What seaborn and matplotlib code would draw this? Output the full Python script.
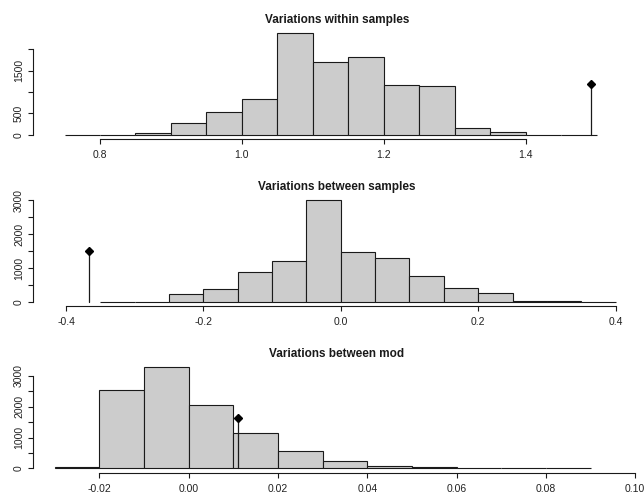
# %% libraries
import numpy as np
import pandas as pd
import matplotlib
matplotlib.use('Agg')
import matplotlib.pyplot as plt
import seaborn as sns

# %% data
# panel 1 - variations within samples
within_edges = [0.75, 0.80, 0.85, 0.90, 0.95, 1.00, 1.05, 1.10, 1.15,
                1.20, 1.25, 1.30, 1.35, 1.40, 1.45, 1.50]
within_counts = [1, 4, 40, 267, 526, 840, 2372, 1704, 1822,
                 1155, 1130, 170, 60, 3, 1]
within_obs = 1.492

# panel 2 - variations between samples
between_edges = [-0.35, -0.30, -0.25, -0.20, -0.15, -0.10, -0.05, 0.00,
                 0.05, 0.10, 0.15, 0.20, 0.25, 0.30, 0.35, 0.40]
between_counts = [1, 3, 247, 395, 888, 1224, 3010, 1490,
                  1303, 780, 414, 276, 30, 20, 1]
between_obs = -0.366

# panel 3 - variations between mod
mod_edges = [-0.03, -0.02, -0.01, 0.00, 0.01, 0.02, 0.03, 0.04,
             0.05, 0.06, 0.07, 0.08, 0.09]
mod_counts = [50, 2553, 3290, 2062, 1146, 567, 229, 87, 55, 30, 25, 1]
mod_obs = 0.011

titles = ['Variations within samples', 'Variations between samples',
          'Variations between mod']

# axis ticks and limits per panel
x_ticks = [[0.8, 1.0, 1.2, 1.4],
           [-0.4, -0.2, 0.0, 0.2, 0.4],
           [-0.02, 0.00, 0.02, 0.04, 0.06, 0.08, 0.10]]
x_labels = [['0.8', '1.0', '1.2', '1.4'],
            ['-0.4', '-0.2', '0.0', '0.2', '0.4'],
            ['-0.02', '0.00', '0.02', '0.04', '0.06', '0.08', '0.10']]
x_lims = [(0.7056, 1.5625), (-0.448, 0.437), (-0.03485, 0.1013)]
y_ticks = [[0, 500, 1000, 1500, 2000],
           [0, 500, 1000, 1500, 2000, 2500, 3000],
           [0, 500, 1000, 1500, 2000, 2500, 3000]]
y_labels = [['0', '500', '', '1500', ''],
            ['0', '', '1000', '', '2000', '', '3000'],
            ['0', '', '1000', '', '2000', '', '3000']]

panels = [(within_edges, within_counts, within_obs),
          (between_edges, between_counts, between_obs),
          (mod_edges, mod_counts, mod_obs)]

# %% style
sns.set_style('white')
plt.rcParams['font.family'] = ['Liberation Sans', 'DejaVu Sans']

# %% figure
W, H = 644, 495
fig = plt.figure(figsize=(W / 100, H / 100), dpi=100)

# plot regions (top, bottom) in pixels from the top of the picture
regions = [(29, 139), (196, 306), (363, 472.5)]
left_px, right_px = 33, 641

for i, (edges, counts, obs) in enumerate(panels):
    top, bottom = regions[i]
    ax = fig.add_axes([left_px / W, 1 - bottom / H,
                       (right_px - left_px) / W, (bottom - top) / H])

    e = np.array(edges)
    df = pd.DataFrame({'value': (e[:-1] + e[1:]) / 2, 'count': counts})
    sns.histplot(data=df, x='value', weights='count', bins=list(edges),
                 ax=ax, color='#cccccc', edgecolor='#1a1a1a',
                 linewidth=0.8, alpha=1)

    # observed value: stem + diamond at half the highest bar
    ymax = max(counts)
    ax.plot([obs, obs], [0, ymax / 2], color='#1a1a1a', lw=0.9)
    ax.plot(obs, ymax / 2, marker='D', ms=4.2, color='black', mec='black')

    # axes
    ax.set_xlim(*x_lims[i])
    ax.set_ylim(-0.04 * ymax, 1.04 * ymax)
    ax.set_xticks(x_ticks[i])
    ax.set_xticklabels(x_labels[i])
    ax.set_yticks(y_ticks[i])
    ax.set_yticklabels(y_labels[i], rotation=90, va='center')
    ax.set_xlabel('')
    ax.set_ylabel('')

    for side in ['top', 'right']:
        ax.spines[side].set_visible(False)
    for side in ['left', 'bottom']:
        ax.spines[side].set_color('#1a1a1a')
        ax.spines[side].set_linewidth(0.8)
    ax.spines['bottom'].set_bounds(x_ticks[i][0], x_ticks[i][-1])
    ax.spines['left'].set_bounds(y_ticks[i][0], y_ticks[i][-1])

    ax.tick_params(axis='both', direction='out', length=3.5, width=0.8,
                   color='#1a1a1a', labelsize=7.5, labelcolor='#222222',
                   bottom=True, left=True)
    ax.tick_params(axis='x', pad=4.5)
    ax.tick_params(axis='y', pad=3)
    ax.patch.set_alpha(0)

    # title
    ax.set_title(titles[i], fontsize=8.5, fontweight='bold',
                 color='#1a1a1a', pad=4)

# save plot
fig.savefig('out.png', dpi=100)
